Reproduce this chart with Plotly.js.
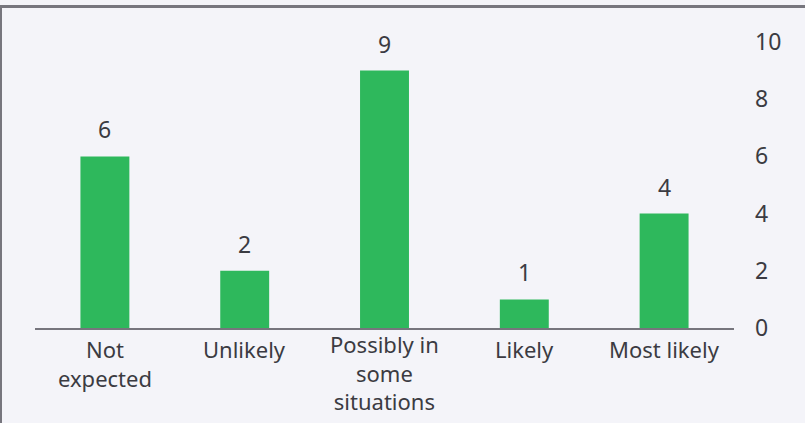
<!DOCTYPE html>
<html>
<head>
<meta charset="utf-8">
<script src="https://cdn.plot.ly/plotly-3.0.1.min.js"></script>
<style>
  html, body { margin: 0; padding: 0; background: #f4f4f9; }
  #wrap { position: relative; width: 805px; height: 423px; }
  #chart { width: 805px; height: 423px; }
  .rule-top { position: absolute; left: 0; top: 5px; width: 805px; height: 3px; background: #77767e; }
  .rule-left { position: absolute; left: 0; top: 5px; width: 2px; height: 418px; background: #77767e; }
</style>
</head>
<body>
<div id="wrap">
  <div id="chart"></div>
  <div class="rule-top"></div>
  <div class="rule-left"></div>
</div>
<script>
// Responses per expectation level
const categories = ["Not<br>expected", "Unlikely", "Possibly in<br>some<br>situations", "Likely", "Most likely"];
const counts = [6, 2, 9, 1, 4];
const yTicks = [0, 2, 4, 6, 8, 10];

const FONT = "Noto Sans, Open Sans, sans-serif";
const TEXT_COLOR = "#3b3b42";
const FONT_SIZE = 23;

const trace = {
  type: "bar",
  x: categories,
  y: counts,
  marker: { color: "#2eb85c" },
  cliponaxis: false,
  hoverinfo: "none"
};

// value labels above each bar
const valueLabels = categories.map((c, i) => ({
  x: c, y: counts[i], xref: "x", yref: "y",
  text: String(counts[i]),
  showarrow: false,
  yanchor: "middle",
  yshift: 27,
  font: { family: FONT, size: FONT_SIZE, color: TEXT_COLOR }
}));

// category names hung below the baseline; taller labels start a little higher
const categoryLabels = categories.map(c => {
  const nLines = c.split("<br>").length;
  return {
    x: c, y: 0, xref: "x", yref: "y",
    text: c,
    showarrow: false,
    yanchor: "top",
    yshift: nLines > 2 ? 1 : -4,
    font: { family: FONT, size: 22, color: TEXT_COLOR }
  };
});

const layout = {
  width: 805,
  height: 423,
  margin: { l: 35, r: 71, t: 42, b: 95 },
  paper_bgcolor: "#f4f4f9",
  plot_bgcolor: "#f4f4f9",
  bargap: 0.65,
  showlegend: false,
  font: { family: FONT, size: FONT_SIZE, color: TEXT_COLOR },
  annotations: valueLabels.concat(categoryLabels),
  xaxis: {
    type: "category",
    showline: true,
    linecolor: "#76757d",
    linewidth: 2,
    ticks: "",
    showticklabels: false,
    showgrid: false,
    zeroline: false
  },
  yaxis: {
    side: "right",
    range: [0, 10],
    tickvals: yTicks,
    ticktext: yTicks.map(String),
    showgrid: false,
    zeroline: false,
    showline: false,
    ticks: "",
    ticklabelstandoff: 20,
    tickfont: { family: FONT, size: FONT_SIZE, color: TEXT_COLOR }
  }
};

Plotly.newPlot("chart", [trace], layout, { displayModeBar: false, staticPlot: true });
</script>
</body>
</html>
